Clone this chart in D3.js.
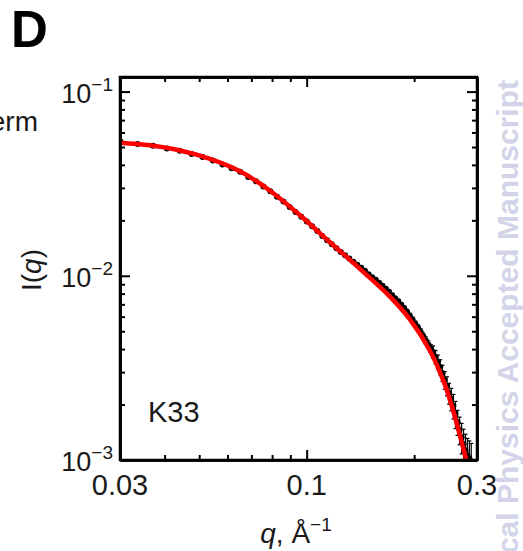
<!DOCTYPE html>
<html lang="en">
<head>
<meta charset="utf-8">
<title>K33 scattering</title>
<script src="https://d3js.org/d3.v7.min.js"></script>
<style>
  body { margin: 0; background: #fff; }
  svg { display: block; font-family: "Liberation Sans", Arial, Helvetica, sans-serif; }
  .frame path.domain { stroke: #000; stroke-width: 2.5px; }
  .frame .tick line { stroke: #000; stroke-width: 2px; }
  .frame .tick text { display: none; }
</style>
</head>
<body>
<div class="chart"></div>
<script>
// measured points (q in 1/A, intensity)
var qData = [0.0301, 0.0336, 0.0371, 0.0406, 0.0441, 0.0476, 0.0511, 0.0546, 0.0581, 0.0616,
             0.0651, 0.0686, 0.0721, 0.0756, 0.0791, 0.0826, 0.0861, 0.0896, 0.0931, 0.0966,
             0.1001, 0.1036, 0.1071, 0.1106, 0.1141, 0.1176, 0.1211, 0.1246, 0.1281, 0.1316,
             0.1351, 0.1386, 0.1421, 0.1456, 0.1491, 0.1526, 0.1561, 0.1596, 0.1631, 0.1666,
             0.1701, 0.1736, 0.1771, 0.1806, 0.1841, 0.1876, 0.1911, 0.1946, 0.1981, 0.2016,
             0.2051, 0.2086, 0.2121, 0.2156, 0.2191, 0.2226, 0.2261, 0.2296, 0.2331, 0.2366,
             0.2401, 0.2436, 0.2471, 0.2506, 0.2541, 0.2576, 0.2611, 0.2646, 0.2681, 0.2716,
             0.2751, 0.2786, 0.2821, 0.2856, 0.2891];
var iData = [0.0535, 0.0520, 0.0508, 0.0491, 0.0478, 0.0459, 0.0441, 0.0423, 0.0402, 0.0384,
             0.0367, 0.0344, 0.0326, 0.0305, 0.0288, 0.0269, 0.0253, 0.0236, 0.0222, 0.0209,
             0.0197, 0.0186, 0.0175, 0.01646, 0.01559, 0.01483, 0.01409, 0.01345, 0.01292, 0.01240,
             0.01191, 0.01148, 0.01105, 0.01065, 0.01019, 0.00981, 0.00951, 0.00916, 0.00882, 0.00850,
             0.00818, 0.00783, 0.00754, 0.00727, 0.00696, 0.00666, 0.00637, 0.00606, 0.00577, 0.00548,
             0.00522, 0.00496, 0.00469, 0.00446, 0.00424, 0.00404, 0.00386, 0.00363, 0.00341, 0.00320,
             0.00297, 0.00272, 0.00253, 0.00231, 0.00215, 0.00197, 0.00178, 0.00161, 0.00146, 0.00133,
             0.00122, 0.00113, 0.00106, 0.00102, 0.00098];
var iErr = [0.0005, 0.0005, 0.0005, 0.0005, 0.0005, 0.0004, 0.0004, 0.0004, 0.0004, 0.0004,
            0.0004, 0.0003, 0.0003, 0.0003, 0.0003, 0.0003, 0.0003, 0.0003, 0.0003, 0.0003,
            0.0002, 0.0002, 0.0002, 0.0002, 0.0002, 0.0002, 0.0002, 0.0002, 0.0002, 0.0002,
            0.0002, 0.0002, 0.0002, 0.0002, 0.0002, 0.0002, 0.0002, 0.0002, 0.0002, 0.0002,
            0.0002, 0.0002, 0.0002, 0.0002, 0.0002, 0.0002, 0.0002, 0.0002, 0.0002, 0.0002,
            0.0002, 0.0002, 0.0002, 0.0002, 0.0002, 0.0002, 0.0003, 0.0003, 0.0003, 0.0003,
            0.0003, 0.0003, 0.0003, 0.0003, 0.0003, 0.0003, 0.0003, 0.00025, 0.00025, 0.00025,
            0.00025, 0.00025, 0.00025, 0.00025, 0.00025];

// model fit (red line)
var qFit = [0.0300, 0.0364, 0.04419, 0.05361, 0.06505, 0.07895, 0.09578, 0.1162, 0.1410,
            0.1711, 0.1948, 0.2215, 0.2441, 0.2603, 0.2813, 0.2850];
var iFit = [0.0528, 0.05107, 0.04791, 0.04318, 0.03697, 0.02897, 0.02132, 0.01521, 0.01091,
            0.00771, 0.00578, 0.00392, 0.00255, 0.00171, 0.000964, 0.000873];

var xMajor = [0.03, 0.1, 0.3];
var xLabels = ["0.03", "0.1", "0.3"];
var xMinor = [0.04, 0.05, 0.06, 0.07, 0.08, 0.09, 0.2];
var yMajor = [0.001, 0.01, 0.1];
var yExp = ["\u22123", "\u22122", "\u22121"];
var yMinor = [0.002, 0.003, 0.004, 0.005, 0.006, 0.007, 0.008, 0.009,
              0.02, 0.03, 0.04, 0.05, 0.06, 0.07, 0.08, 0.09];

var width = 523, height = 551;
var box = {left: 120, right: 477, top: 77, bottom: 460};

var svg = d3.select(".chart").append("svg")
    .attr("width", width)
    .attr("height", height);

svg.append("rect").attr("width", width).attr("height", height).attr("fill", "#fff");

var x = d3.scaleLog().domain([0.03, 0.3]).range([box.left, box.right]);
var y = d3.scaleLog().domain([0.001, 0.12]).range([box.bottom, box.top]);

svg.append("defs").append("clipPath").attr("id", "plotClip")
    .append("rect")
    .attr("x", box.left).attr("y", box.top)
    .attr("width", box.right - box.left).attr("height", box.bottom - box.top);

// watermark
svg.append("text")
    .attr("transform", "translate(518,80) rotate(-90)")
    .attr("text-anchor", "end")
    .attr("font-size", 30)
    .attr("font-weight", "bold")
    .attr("fill", "#d3d3e9")
    .text("cal Physics Accepted Manuscript");

var plot = svg.append("g").attr("clip-path", "url(#plotClip)");

var pts = qData.map(function(q, i) { return {q: q, v: iData[i], e: iErr[i]}; });

// error bars
var bars = plot.append("g").attr("stroke", "#000").attr("stroke-width", 1.2);
pts.forEach(function(d) {
    var xx = x(d.q), lo = Math.max(d.v - d.e, 0.0005);
    bars.append("line").attr("x1", xx).attr("x2", xx)
        .attr("y1", y(d.v + d.e)).attr("y2", y(lo));
    bars.append("line").attr("x1", xx - 2).attr("x2", xx + 2)
        .attr("y1", y(d.v + d.e)).attr("y2", y(d.v + d.e));
    bars.append("line").attr("x1", xx - 2).attr("x2", xx + 2)
        .attr("y1", y(lo)).attr("y2", y(lo));
});

plot.append("g").selectAll("circle")
    .data(pts)
    .enter()
    .append("circle")
    .attr("cx", function(d) { return x(d.q); })
    .attr("cy", function(d) { return y(d.v); })
    .attr("r", 3)
    .attr("fill", "#000");

var fit = qFit.map(function(q, i) { return [q, iFit[i]]; });
var line = d3.line()
    .x(function(d) { return x(d[0]); })
    .y(function(d) { return y(d[1]); })
    .curve(d3.curveCatmullRom.alpha(0.5));

plot.append("path")
    .datum(fit)
    .attr("d", line)
    .attr("fill", "none")
    .attr("stroke", "#ff0000")
    .attr("stroke-width", 4.5);

// frame with inward ticks on all sides
var frame = svg.append("g").attr("class", "frame");
function addAxis(axisFn, scale, values, size, tx, ty) {
    frame.append("g")
        .attr("transform", "translate(" + tx + "," + ty + ")")
        .call(axisFn(scale).tickValues(values).tickSize(size).tickSizeOuter(0).tickFormat(""));
}
addAxis(d3.axisBottom, x, xMinor, -5, 0, box.bottom);
addAxis(d3.axisBottom, x, [0.1], -10, 0, box.bottom);
addAxis(d3.axisTop, x, xMinor, -5, 0, box.top);
addAxis(d3.axisTop, x, [0.1], -10, 0, box.top);
addAxis(d3.axisLeft, y, yMinor, -5, box.left, 0);
addAxis(d3.axisLeft, y, [0.01, 0.1], -10, box.left, 0);
addAxis(d3.axisRight, y, yMinor, -5, box.right, 0);
addAxis(d3.axisRight, y, [0.01, 0.1], -10, box.right, 0);

frame.append("rect")
    .attr("x", box.left).attr("y", box.top)
    .attr("width", box.right - box.left).attr("height", box.bottom - box.top)
    .attr("fill", "none").attr("stroke", "#000").attr("stroke-width", 2.5);

// tick labels
svg.append("g").selectAll("text")
    .data(xMajor)
    .enter()
    .append("text")
    .attr("x", function(d) { return x(d); })
    .attr("y", 495)
    .attr("text-anchor", "middle")
    .attr("font-size", 29)
    .attr("fill", "#1a1a1a")
    .text(function(d, i) { return xLabels[i]; });

var yl = svg.append("g").selectAll("text")
    .data(yMajor)
    .enter()
    .append("text")
    .attr("x", 113)
    .attr("y", function(d) { return y(d) + 11; })
    .attr("text-anchor", "end")
    .attr("font-size", 27)
    .attr("fill", "#1a1a1a");
yl.append("tspan").text("10");
yl.append("tspan").attr("dy", -12).attr("font-size", 19)
    .text(function(d, i) { return yExp[i]; });

// axis titles
var xt = svg.append("text")
    .attr("x", 296).attr("y", 543)
    .attr("text-anchor", "middle")
    .attr("font-size", 28)
    .attr("fill", "#1a1a1a");
xt.append("tspan").attr("font-style", "italic").text("q");
xt.append("tspan").text(", \u00c5");
xt.append("tspan").attr("dy", -12).attr("font-size", 19).text("\u22121");

var yt = svg.append("text")
    .attr("transform", "translate(41,270) rotate(-90)")
    .attr("text-anchor", "middle")
    .attr("font-size", 28)
    .attr("fill", "#1a1a1a");
yt.append("tspan").text("I(");
yt.append("tspan").attr("font-style", "italic").text("q");
yt.append("tspan").text(")");

svg.append("text")
    .attr("x", 148).attr("y", 422)
    .attr("font-size", 29)
    .attr("fill", "#1a1a1a")
    .text("K33");

svg.append("text")
    .attr("x", 11).attr("y", 47)
    .attr("font-size", 51)
    .attr("font-weight", "bold")
    .attr("fill", "#000")
    .text("D");

svg.append("text")
    .attr("x", 38).attr("y", 131)
    .attr("text-anchor", "end")
    .attr("font-size", 28)
    .attr("fill", "#1a1a1a")
    .text("erm");
</script>
</body>
</html>
